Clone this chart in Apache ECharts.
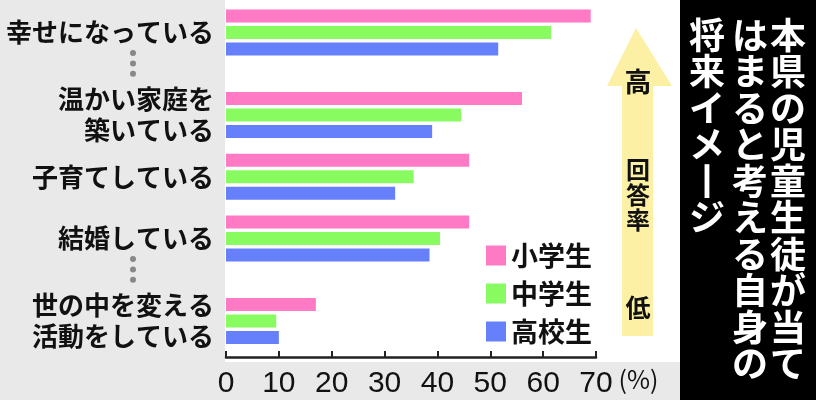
<!DOCTYPE html>
<html>
<head>
<meta charset="utf-8">
<script src="https://cdn.jsdelivr.net/npm/echarts@6/dist/echarts.min.js"></script>
<style>
html,body{margin:0;padding:0;background:#e9e9e9;}
#c{width:816px;height:400px;}
</style>
</head>
<body>
<div id="c"></div>
<script>
// ---- data ----
const categories = ['幸せになっている', '温かい家庭を\n築いている', '子育てしている', '結婚している', '世の中を変える\n活動をしている'];
const seriesNames = ['小学生', '中学生', '高校生'];
const elementary = [69, 56, 46, 46, 17];
const juniorHigh = [61.5, 44.5, 35.5, 40.5, 9.5];
const highSchool = [51.5, 39, 32, 38.5, 10];
const xTicks = [0, 10, 20, 30, 40, 50, 60, 70];
const titleColumns = ['本県の児童生徒が当て', 'はまると考える自身の', '将来イメージ'];
const arrowLabels = ['高', '回答率', '低'];

// ---- layout helpers (spacer slots between groups) ----
const slotOf = [0, 4, 7, 10, 14];
const nSlots = 15;
const slotCats = new Array(nSlots).fill('');
slotOf.forEach((s, i) => { slotCats[s] = categories[i]; });
function spread(vals) {
  const arr = new Array(nSlots).fill(null);
  slotOf.forEach((s, i) => { arr[s] = vals[i]; });
  return arr;
}
const colors = ['#ff7ac4', '#88fb60', '#6680fc'];
const FONT = '"Noto Sans CJK JP", sans-serif';

const chart = echarts.init(document.getElementById('c'));
const slotH = 20.6;
const gridTop = 32.5 - slotH / 2;
const gridH = slotH * nSlots;
const gridBottom = 400 - gridTop - gridH;

const vertical = s => s.split('').map(ch => ch === 'ー' ? '丨' : ch).join('\n');

const graphics = [
  { type: 'rect', z: -10, shape: { x: 225, y: 0, width: 456, height: 362 }, style: { fill: '#ffffff' } },
  { type: 'rect', z: -10, shape: { x: 680, y: 0, width: 136, height: 400 }, style: { fill: '#000000' } },
  { type: 'polygon', z: -9, shape: { points: [[636, 28], [672, 86], [653, 86], [653, 336], [622, 336], [622, 86], [607, 86]] }, style: { fill: '#fcf0a4' } },
  { type: 'text', x: 638, y: 82, style: { text: arrowLabels[0], font: 'bold 27px ' + FONT, fill: '#111', textAlign: 'center', textVerticalAlign: 'middle' } },
  { type: 'text', x: 638, y: 195, style: { text: vertical(arrowLabels[1]), font: 'bold 24px ' + FONT, lineHeight: 25, fill: '#111', textAlign: 'center', textVerticalAlign: 'middle' } },
  { type: 'text', x: 638, y: 307, style: { text: arrowLabels[2], font: 'bold 25px ' + FONT, fill: '#111', textAlign: 'center', textVerticalAlign: 'middle' } }
];
const colX = [788, 750, 707];
titleColumns.forEach((t, i) => {
  graphics.push({ type: 'text', x: colX[i], y: 17, style: { text: vertical(t), font: 'bold 36px ' + FONT, lineHeight: 36.5, fill: '#ffffff', textAlign: 'center', textVerticalAlign: 'top' } });
});

chart.setOption({
  animation: false,
  backgroundColor: '#e9e9e9',
  grid: { left: 226, right: 816 - 596, top: gridTop, bottom: gridBottom, containLabel: false },
  legend: {
    orient: 'vertical', left: 481, top: 237,
    itemWidth: 20, itemHeight: 20, itemGap: 11, icon: 'rect',
    data: seriesNames,
    textStyle: { fontFamily: FONT, fontSize: 27, fontWeight: 'bold', lineHeight: 26, color: '#111', padding: [0, 0, 0, 0] }
  },
  xAxis: {
    type: 'value', min: xTicks[0], max: xTicks[xTicks.length - 1], interval: 10,
    offset: 357 - (400 - gridBottom),
    axisLine: { show: true, lineStyle: { color: '#222', width: 2.5 } },
    axisTick: { show: true, inside: true, length: 6, lineStyle: { color: '#222', width: 2 } },
    splitLine: { show: false },
    axisLabel: { margin: 12, fontFamily: '"Liberation Sans Narrow", sans-serif', fontSize: 30, color: '#111' },
    name: '(%)', nameLocation: 'end', nameGap: 4,
    nameTextStyle: { fontFamily: FONT, fontSize: 25, color: '#111', verticalAlign: 'top', padding: [10, 0, 0, 0] }
  },
  yAxis: {
    type: 'category', inverse: true, data: slotCats,
    axisLine: { show: false }, axisTick: { show: false }, splitLine: { show: false },
    axisLabel: { interval: 0, margin: 12, fontFamily: FONT, fontSize: 26, fontWeight: 'bold', lineHeight: 31, color: '#111', align: 'right' }
  },
  series: [elementary, juniorHigh, highSchool].map((vals, i) => ({
    name: seriesNames[i], type: 'bar', data: spread(vals), clip: false,
    barWidth: 13, barGap: '27%', itemStyle: { color: colors[i] }
  })),
  graphic: graphics
});

// separator dots between groups, positioned from the category scale
const dots = [];
[[0, 4], [10, 14]].forEach(([a, b]) => {
  const ya = chart.convertToPixel({ yAxisIndex: 0 }, a + 1);
  const yb = chart.convertToPixel({ yAxisIndex: 0 }, a + 2);
  [ya, (ya + yb) / 2, yb].forEach(y => {
    dots.push({ type: 'circle', shape: { cx: 133, cy: y, r: 3 }, style: { fill: '#888' } });
  });
});
chart.setOption({ graphic: graphics.concat(dots) });
</script>
</body>
</html>
